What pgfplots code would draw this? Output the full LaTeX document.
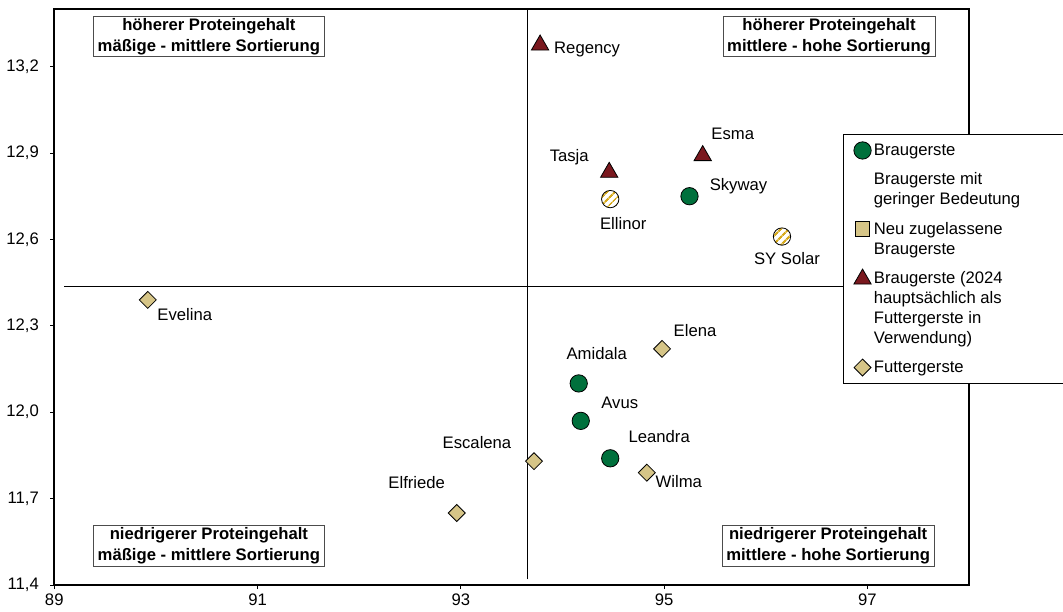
\documentclass[border=0pt]{standalone}
\usepackage{pgfplots}
\pgfplotsset{compat=1.18}
\usepackage{pgfplotstable}
\usepackage{fontspec}
\setmainfont{Liberation Sans}
\usetikzlibrary{patterns.meta}

\definecolor{bgreen}{RGB}{0,112,60}
\definecolor{bred}{RGB}{122,24,30}
\definecolor{btan}{RGB}{214,197,135}
\definecolor{bgold}{RGB}{214,170,30}

\newcommand{\lab}{\fontsize{12.5}{15}\selectfont}

\pgfplotstableread{
x y
94.16 12.10
94.18 11.97
94.47 11.84
95.25 12.75
}\braugerste

\pgfplotstableread{
x y
94.47 12.74
96.16 12.61
}\gering

\pgfplotstableread{
x y
93.78 13.275
94.46 12.833
95.38 12.891
}\futterbrau

\pgfplotstableread{
x y
89.92 12.39
94.98 12.22
94.83 11.79
93.72 11.83
92.96 11.65
}\futter

\pgfplotsset{
  gruen/.style={mark=*, mark size=6.5pt,
    mark options={draw=black, line width=0.6pt, fill=bgreen}},
  neu/.style={mark=square*, mark size=5.5pt,
    mark options={draw=black, line width=0.6pt, fill=btan}},
  rot/.style={mark=triangle*, mark size=7.5pt,
    mark options={draw=black, line width=0.6pt, fill=bred}},
  raute/.style={mark=square*, mark size=4.5pt,
    mark options={draw=black, line width=0.6pt, fill=btan, rotate=45}},
}
% label next to a point: x, y, offset right (px), offset up (px), text
\newcommand{\name}[5]{\node[font=\lab, xshift={#3*0.75pt}, yshift={#4*0.75pt}] at (axis cs:#1,#2) {#5};}

\begin{document}
\begin{tikzpicture}
\useasboundingbox (-40.7pt,-19.5pt) rectangle (756.5pt,438.75pt);
\begin{axis}[
    scale only axis,
    width=686pt, height=432pt,
    xmin=89, xmax=98, ymin=11.4, ymax=13.4,
    xtick={89,91,93,95,97},
    ytick={11.4,11.7,12.0,12.3,12.6,12.9,13.2},
    yticklabel style={/pgf/number format/.cd, fixed, fixed zerofill, precision=1, use comma,
        /tikz/.cd, xshift=-5pt},
    /pgf/number format/assume math mode=true,
    ticklabel style={font=\lab},
    tick align=outside, tick pos=left,
    major tick length=3pt,
    tick style={black, line width=0.6pt},
    axis line style={line width=1.5pt},
    clip=false,
    legend style={at={(rel axis cs:0.862,0.783)}, anchor=north west,
        draw=black, line width=0.6pt, fill=white, font=\lab,
        cells={anchor=west, align=left}, row sep=7.5pt,
        inner xsep=6pt, inner ysep=5pt},
    legend cell align=left,
]
% quadrant dividers
\addplot[forget plot, black, line width=1.2pt, mark=none]
    coordinates {(89.1,12.436) (98,12.436)};
\addplot[forget plot, black, line width=0.75pt, mark=none]
    coordinates {(93.66,11.42) (93.66,13.4)};

\addplot[only marks, forget plot, gruen] table[x=x, y=y] {\braugerste};
\addplot[only marks, forget plot, mark=*, mark size=6.5pt,
    mark options={draw=black, line width=0.6pt,
        pattern={Lines[angle=45, distance=4pt, line width=1.7pt]}, pattern color=bgold}]
    table[x=x, y=y] {\gering};
\addplot[only marks, forget plot, rot] table[x=x, y=y] {\futterbrau};
\addplot[only marks, forget plot, raute] table[x=x, y=y] {\futter};

\name{94.16}{12.10}{18}{30}{Amidala}
\name{94.18}{11.97}{39}{18}{Avus}
\name{94.47}{11.84}{49}{22}{Leandra}
\name{95.25}{12.75}{49}{10}{Skyway}
\name{94.47}{12.74}{13}{-24}{Ellinor}
\name{96.16}{12.61}{5}{-22}{SY Solar}
\name{93.78}{13.275}{47}{-4}{Regency}
\name{94.46}{12.833}{-40}{15}{Tasja}
\name{95.38}{12.891}{30}{22}{Esma}
\name{89.92}{12.39}{37}{-15}{Evelina}
\name{94.98}{12.22}{33}{18}{Elena}
\name{94.83}{11.79}{32}{-9}{Wilma}
\name{93.72}{11.83}{-57}{19}{Escalena}
\name{92.96}{11.65}{-40}{30}{Elfriede}

\addlegendimage{only marks, gruen}
\addlegendimage{empty legend}
\addlegendimage{only marks, neu, yshift=7.5pt}
\addlegendimage{only marks, rot, yshift=22pt}
\addlegendimage{only marks, raute}
\legend{\makebox[150pt][l]{Braugerste}, {Braugerste mit\\geringer Bedeutung}, {Neu zugelassene\\Braugerste},
    {Braugerste (2024\\hauptsächlich als\\Futtergerste in\\Verwendung)}, Futtergerste}

% quadrant captions
\tikzset{quad/.style={draw=black!70, line width=0.5pt, fill=white, align=center,
    font=\fontsize{12.5}{15.5}\selectfont\bfseries, inner xsep=3pt, inner ysep=1.5pt}}
\node[quad] at (rel axis cs:0.169,0.952) {höherer Proteingehalt\\mäßige - mittlere Sortierung};
\node[quad] at (rel axis cs:0.847,0.952) {höherer Proteingehalt\\mittlere - hohe Sortierung};
\node[quad] at (rel axis cs:0.169,0.068) {niedrigerer Proteingehalt\\mäßige - mittlere Sortierung};
\node[quad] at (rel axis cs:0.846,0.068) {niedrigerer Proteingehalt\\mittlere - hohe Sortierung};
\end{axis}
\end{tikzpicture}
\end{document}
